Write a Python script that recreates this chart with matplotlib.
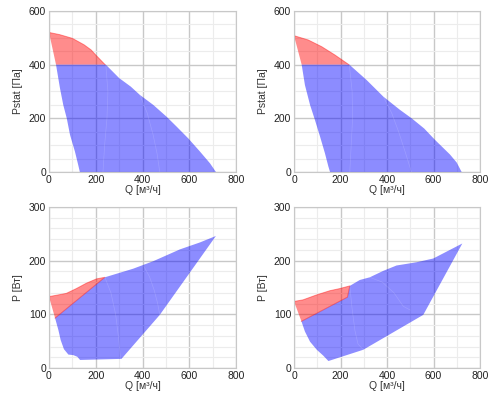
import matplotlib.pyplot as plt
from matplotlib.ticker import MultipleLocator

plt.rcParams['font.family'] = ['Liberation Sans', 'DejaVu Sans']

# --- top-left: Pstat vs Q
tl_red_q = [0, 45, 100, 150, 180, 200, 240, 30]
tl_red_p = [520, 512, 498, 474, 455, 436, 400, 400]
tl_blue_q = [30, 243, 300, 350, 389, 446, 503, 546, 596, 646, 689, 714,
             132, 125, 111, 90, 76, 61, 47]
tl_blue_p = [400, 400, 350, 318, 287, 250, 206, 169, 125, 76, 32, 0,
             0, 26, 76, 138, 200, 250, 312]
tl_inner = [([243, 252, 248, 238, 231], [400, 300, 200, 100, 0]),
            ([389, 420, 445, 462, 474], [287, 220, 140, 70, 0])]

# --- top-right: Pstat vs Q
tr_red_q = [0, 61, 119, 176, 236, 33]
tr_red_p = [508, 492, 467, 436, 400, 400]
tr_blue_q = [33, 238, 312, 384, 455, 506, 560, 606, 671, 700, 721,
             155, 148, 133, 112, 90, 69, 47]
tr_blue_p = [400, 400, 343, 281, 232, 200, 162, 120, 65, 35, 0,
             0, 20, 70, 132, 194, 250, 324]
tr_inner = [([238, 250, 252, 246, 240], [400, 300, 200, 100, 0]),
            ([384, 420, 450, 480, 505], [281, 220, 150, 70, 0])]

# --- bottom-left: P vs Q
bl_red_q = [0, 74, 117, 160, 203, 239, 26]
bl_red_p = [133, 139, 148, 158, 166, 169, 93]
bl_blue_q = [26, 239, 360, 446, 560, 646, 714, 474, 310,
             133, 121, 104, 83, 64, 50, 40]
bl_blue_p = [93, 169, 185, 199, 221, 234, 246, 99, 17,
             15, 21, 24, 25, 35, 52, 71]
bl_inner = [([239, 265, 285, 298, 306], [169, 140, 100, 55, 18]),
            ([405, 430, 450, 465, 474], [190, 170, 145, 120, 99])]

# --- bottom-right: P vs Q
br_red_q = [0, 39, 96, 154, 197, 240, 230, 32]
br_red_p = [124, 127, 136, 144, 148, 153, 132, 87]
br_blue_q = [32, 230, 240, 283, 326, 384, 441, 527, 599, 724, 556, 298,
             148, 126, 98, 69, 47]
br_blue_p = [87, 132, 153, 164, 169, 181, 191, 197, 204, 232, 99, 34,
             13, 23, 34, 49, 68]
br_inner = [([240, 250, 262, 275, 298], [153, 110, 70, 45, 34]),
            ([326, 380, 430, 470, 500], [169, 160, 140, 115, 108])]

fig = plt.figure(figsize=(5, 3.96), dpi=100)

panels = [
    ([0.098, 0.5657, 0.374, 0.4066], tl_red_q, tl_red_p, tl_blue_q, tl_blue_p, tl_inner, 600, 200, 50, 'Pstat [Па]'),
    ([0.588, 0.5657, 0.372, 0.4066], tr_red_q, tr_red_p, tr_blue_q, tr_blue_p, tr_inner, 600, 200, 50, 'Pstat [Па]'),
    ([0.098, 0.0707, 0.374, 0.4066], bl_red_q, bl_red_p, bl_blue_q, bl_blue_p, bl_inner, 300, 100, 20, 'P [Вт]'),
    ([0.588, 0.0707, 0.372, 0.4066], br_red_q, br_red_p, br_blue_q, br_blue_p, br_inner, 300, 100, 20, 'P [Вт]'),
]

for rect, rq, rp, bq, bp, inner, ymax, ymaj, ymin, ylab in panels:
    ax = fig.add_axes(rect)
    ax.fill(rq, rp, color=(1, 0, 0), alpha=0.45, lw=0)
    ax.fill(bq, bp, color=(0, 0, 1), alpha=0.45, lw=0)
    for iq, ip in inner:
        ax.plot(iq, ip, color='white', lw=0.5, alpha=0.15)
    n = len(rq) - (2 if ymax == 600 else 1)
    ax.plot(rq[:n + 1], rp[:n + 1], color='red', lw=0.7, alpha=0.4)
    ax.set_xlim(0, 800)
    ax.set_ylim(0, ymax)
    ax.xaxis.set_major_locator(MultipleLocator(200))
    ax.xaxis.set_minor_locator(MultipleLocator(100))
    ax.yaxis.set_major_locator(MultipleLocator(ymaj))
    ax.yaxis.set_minor_locator(MultipleLocator(ymin))
    ax.grid(which='major', color='#c8c8c8', lw=1.0)
    ax.grid(which='minor', color='#ececec', lw=0.8)
    ax.set_axisbelow(True)
    ax.tick_params(which='both', length=0, labelsize=7.5, pad=2, colors='#222222')
    for s in ax.spines.values():
        s.set_color('#c8c8c8')
    ax.set_xlabel('Q [м³/ч]', fontsize=7.5, labelpad=0, color='#333333')
    ax.set_ylabel(ylab, fontsize=7.5, labelpad=4, color='#333333')

fig.savefig('out.png', dpi=100)
